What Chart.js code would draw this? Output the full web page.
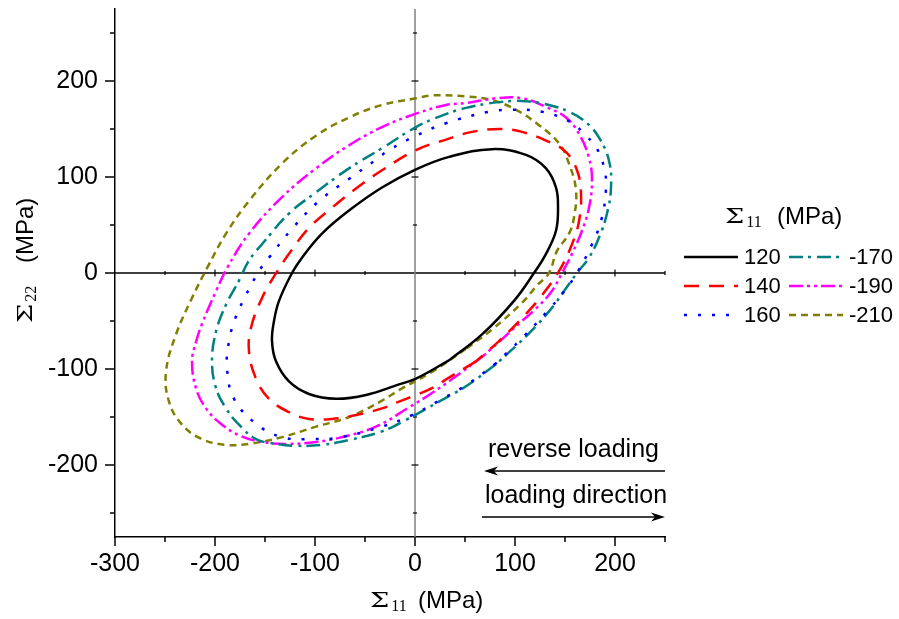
<!DOCTYPE html>
<html>
<head>
<meta charset="utf-8">
<script src="https://cdn.jsdelivr.net/npm/chart.js@4.4.1/dist/chart.umd.min.js"></script>
<style>
  html, body { margin: 0; padding: 0; background: #fff; }
  #wrap { width: 899px; height: 619px; }
</style>
</head>
<body>
<div id="wrap"><canvas id="yieldChart" width="899" height="619"></canvas></div>
<script>
// yield loops, [S11, S22] in MPa, clockwise, closed.
// each loop starts on its lower-right flank where the curve is nearly straight
const loop120 = [[34,-91],[1,-110],[-16,-116],[-49,-127],[-79,-131],[-106,-126],[-126,-113],[-139,-92],[-143,-71],[-141,-50],[-136,-29],[-123,0],[-113,16],[-93,41],[-66,65],[-33,89],[1,108],[34,121],[77,129],[111,123],[131,109],[141,89],[143,68],[141,44],[131,20],[119,0],[99,-29],[67,-64],[34,-91]];
const loop140 = [[61,-92],[34,-109],[17,-120],[1,-127],[-16,-134],[-33,-141],[-59,-148],[-83,-152],[-106,-152],[-126,-145],[-146,-131],[-159,-110],[-166,-82],[-164,-57],[-153,-26],[-140,-2],[-126,20],[-106,47],[-83,68],[-59,88],[-33,107],[1,128],[34,140],[57,147],[84,150],[107,147],[131,138],[151,126],[162,107],[166,83],[164,54],[157,30],[144,2],[124,-27],[107,-47],[84,-71],[61,-92]];
const loop160 = [[81,-94],[54,-115],[24,-133],[-3,-148],[-33,-160],[-74,-171],[-103,-173],[-133,-171],[-159,-157],[-181,-131],[-188,-99],[-186,-71],[-180,-48],[-171,-27],[-156,2],[-146,16],[-123,46],[-96,75],[-66,98],[-39,118],[-26,128],[1,143],[31,156],[74,168],[97,170],[127,168],[156,157],[169,145],[181,131],[189,110],[191,88],[186,54],[177,30],[162,0],[147,-22],[134,-38],[107,-68],[81,-94]];
const loop170 = [[81,-95],[51,-118],[24,-134],[-9,-153],[-33,-165],[-66,-174],[-93,-179],[-119,-180],[-139,-178],[-159,-173],[-176,-158],[-189,-141],[-199,-120],[-203,-92],[-199,-61],[-189,-33],[-176,-8],[-166,13],[-153,30],[-126,62],[-99,84],[-66,109],[-33,130],[1,152],[27,164],[51,172],[84,178],[111,179],[134,175],[154,168],[171,157],[184,141],[194,117],[196,89],[192,62],[184,37],[174,16],[162,0],[151,-16],[134,-40],[111,-66],[81,-95]];
const loop190 = [[71,-84],[47,-103],[17,-125],[-6,-140],[-39,-160],[-73,-171],[-99,-176],[-126,-178],[-153,-176],[-176,-169],[-193,-158],[-209,-141],[-219,-120],[-223,-92],[-219,-72],[-213,-53],[-199,-19],[-188,5],[-166,41],[-133,79],[-99,109],[-66,133],[-33,152],[1,166],[31,175],[51,177],[81,182],[107,182],[131,173],[151,162],[164,145],[174,120],[177,96],[174,68],[167,44],[157,20],[147,0],[136,-20],[120,-38],[107,-50],[71,-84]];
const loop210 = [[51,-79],[17,-103],[-16,-122],[-33,-133],[-66,-150],[-99,-160],[-133,-171],[-166,-178],[-189,-179],[-213,-173],[-233,-158],[-246,-134],[-249,-103],[-239,-64],[-223,-26],[-208,5],[-189,41],[-166,75],[-133,114],[-99,143],[-66,162],[-33,175],[1,182],[17,185],[51,184],[77,180],[101,170],[124,154],[144,135],[154,114],[161,86],[159,58],[154,41],[142,23],[134,0],[122,-13],[108,-30],[78,-58],[51,-79]];

const loopLabels = ['120', '140', '160', '-170', '-190', '-210'];
const xTicks = [-300, -200, -100, 0, 100, 200];
const yTicks = [-200, -100, 0, 100, 200];

const loops = [loop120, loop140, loop160, loop170, loop190, loop210];
const colors = ['#000000', '#ff0000', '#0000ff', '#008080', '#ff00ff', '#808000'];
const dashes = [[], [15, 10], [3, 11], [14, 5, 3, 6], [14, 4, 3, 4, 3, 4], [7, 5]];

const SANS = '"Liberation Sans", Arial, sans-serif';
Chart.defaults.font.family = SANS;
Chart.defaults.color = '#000';

// Sigma with subscript, then (MPa); drawn at the current origin on baseline 0
function sigmaTitle(ctx, sub, unitX) {
    ctx.textAlign = 'left';
    ctx.textBaseline = 'alphabetic';
    ctx.save();
    ctx.scale(1.3, 1);
    ctx.font = '21px "DejaVu Serif", serif';
    ctx.fillText('\u03A3', 0, 0);
    const w = ctx.measureText('\u03A3').width * 1.3;
    ctx.restore();
    ctx.font = '16px "Liberation Serif", serif';
    ctx.fillText(sub, w + 2, 4);
    ctx.font = '24px ' + SANS;
    ctx.fillText('(MPa)', unitX, 1);
}

function arrow(ctx, x1, x2, y) {
    const dir = x2 > x1 ? 1 : -1;
    ctx.beginPath();
    ctx.moveTo(x1, y);
    ctx.lineTo(x2 - dir * 8, y);
    ctx.stroke();
    ctx.beginPath();
    ctx.moveTo(x2, y);
    ctx.lineTo(x2 - dir * 14, y - 4.5);
    ctx.lineTo(x2 - dir * 10, y);
    ctx.lineTo(x2 - dir * 14, y + 4.5);
    ctx.closePath();
    ctx.fill();
}

const decorations = {
    id: 'decorations',
    beforeDatasetsDraw(chart) {
        const { ctx, chartArea: a, scales: { x, y } } = chart;
        const x0 = x.getPixelForValue(0), y0 = y.getPixelForValue(0);
        ctx.save();
        ctx.lineWidth = 1.5;
        ctx.strokeStyle = '#000';
        ctx.beginPath(); ctx.moveTo(a.left, y0); ctx.lineTo(a.right, y0); ctx.stroke();
        ctx.strokeStyle = '#808080';
        ctx.beginPath(); ctx.moveTo(x0, a.top); ctx.lineTo(x0, a.bottom); ctx.stroke();

        // small ticks on the zero lines
        ctx.strokeStyle = '#000';
        ctx.lineWidth = 1.2;
        for (let v = -250; v <= 250; v += 50) {
            if (v === 0) continue;
            const h = v % 100 === 0 ? 3.5 : 2;
            const px = x.getPixelForValue(v);
            ctx.beginPath(); ctx.moveTo(px, y0 - h); ctx.lineTo(px, y0 + h); ctx.stroke();
            const py = y.getPixelForValue(v);
            ctx.beginPath(); ctx.moveTo(x0 - h, py); ctx.lineTo(x0 + h, py); ctx.stroke();
        }
        ctx.restore();
    },
    afterDraw(chart) {
        const { ctx, chartArea: a, scales: { x, y } } = chart;
        ctx.save();
        ctx.strokeStyle = '#000';
        ctx.fillStyle = '#000';
        ctx.lineWidth = 1.5;

        // outward ticks on the left and bottom axes
        for (let v = -250; v <= 250; v += 50) {
            const len = v % 100 === 0 ? 10 : 5;
            const py = y.getPixelForValue(v);
            ctx.beginPath(); ctx.moveTo(a.left, py); ctx.lineTo(a.left - len, py); ctx.stroke();
        }
        for (let v = -300; v <= 250; v += 50) {
            const len = v % 100 === 0 ? 9 : 5;
            const px = x.getPixelForValue(v);
            ctx.beginPath(); ctx.moveTo(px, a.bottom); ctx.lineTo(px, a.bottom + len); ctx.stroke();
        }

        // axis titles
        ctx.save();
        ctx.translate(370, 607);
        sigmaTitle(ctx, '11', 48);
        ctx.restore();

        ctx.save();
        ctx.translate(32, 323);
        ctx.rotate(-Math.PI / 2);
        sigmaTitle(ctx, '22', 60);
        ctx.restore();

        // legend, two columns
        ctx.save();
        ctx.translate(725, 223);
        sigmaTitle(ctx, '11', 52);
        ctx.restore();

        const rows = [257, 286, 315];
        const cols = [684, 789];
        chart.data.datasets.forEach((ds, i) => {
            const lx = cols[Math.floor(i / 3)];
            const ly = rows[i % 3];
            ctx.save();
            ctx.strokeStyle = ds.borderColor;
            ctx.lineWidth = ds.borderWidth;
            ctx.setLineDash(ds.borderDash);
            ctx.beginPath(); ctx.moveTo(lx, ly); ctx.lineTo(lx + 54, ly); ctx.stroke();
            ctx.restore();
            ctx.font = '22px ' + SANS;
            ctx.textAlign = 'left';
            ctx.textBaseline = 'middle';
            ctx.fillText(ds.label, lx + 60, ly + 1);
        });

        // loading direction notes
        ctx.font = '25px ' + SANS;
        ctx.textAlign = 'left';
        ctx.textBaseline = 'alphabetic';
        ctx.fillText('reverse loading', 488, 457);
        ctx.fillText('loading direction', 485, 503);
        ctx.lineWidth = 1.5;
        arrow(ctx, 665, 484, 471);
        arrow(ctx, 482, 665, 517);
        ctx.restore();
    }
};

const datasets = loops.map((loop, i) => ({
    label: loopLabels[i],
    data: loop.map(p => ({ x: p[0], y: p[1] })),
    showLine: true,
    borderColor: colors[i],
    backgroundColor: colors[i],
    borderWidth: 2.5,
    borderDash: dashes[i],
    pointRadius: 0,
    tension: 0.4,
    fill: false
}));

new Chart(document.getElementById('yieldChart'), {
    type: 'scatter',
    data: { datasets: datasets },
    options: {
        responsive: false,
        animation: false,
        layout: { padding: { top: 9, right: 234, left: 0, bottom: 0 } },
        plugins: { legend: { display: false }, tooltip: { enabled: false } },
        scales: {
            x: {
                type: 'linear',
                min: -300,
                max: 250,
                afterBuildTicks: s => { s.ticks = xTicks.map(v => ({ value: v })); },
                afterFit: s => { s.height = 82; s.paddingLeft = 0; s.paddingRight = 0; },
                grid: { display: false, drawTicks: false },
                border: { display: true, color: '#000', width: 1.5 },
                ticks: { font: { size: 25 }, color: '#000', padding: 12, maxRotation: 0 }
            },
            y: {
                type: 'linear',
                min: -275,
                max: 275,
                afterBuildTicks: s => { s.ticks = yTicks.map(v => ({ value: v })); },
                afterFit: s => { s.width = 115; s.paddingTop = 0; s.paddingBottom = 0; },
                grid: { display: false, drawTicks: false },
                border: { display: true, color: '#000', width: 1.5 },
                ticks: { font: { size: 25 }, color: '#000', padding: 17 }
            }
        }
    },
    plugins: [decorations]
});
</script>
</body>
</html>
